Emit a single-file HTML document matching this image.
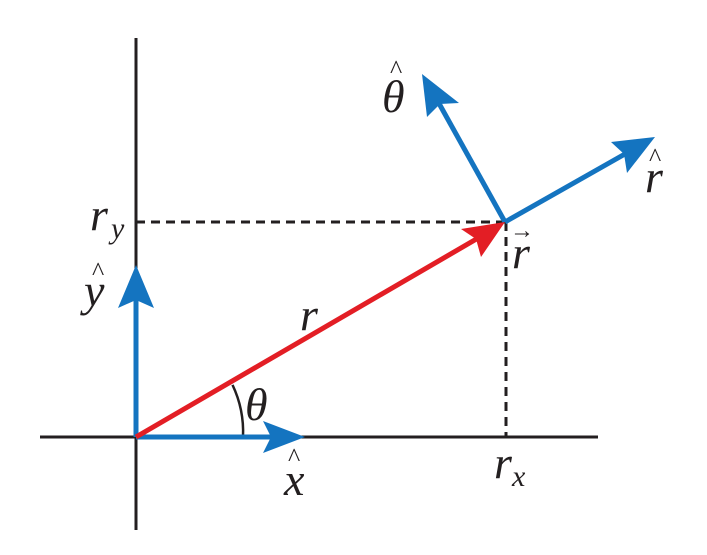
<!DOCTYPE html>
<html><head><style>body{margin:0;background:#fff}svg{display:block}text{font-family:"Liberation Serif","DejaVu Serif",serif;font-style:italic}</style></head><body>
<svg width="707" height="555" xmlns="http://www.w3.org/2000/svg">
<g stroke="#231f20" stroke-width="3" fill="none">
<line x1="136" y1="38" x2="136" y2="530"/>
<line x1="40" y1="437" x2="598" y2="437"/>
<line x1="136" y1="222" x2="505" y2="222" stroke-dasharray="9,6"/>
<line x1="506" y1="222" x2="506" y2="437" stroke-dasharray="9,6"/>
<path d="M232.5,384.9 A110,110 0 0 1 243,437" stroke-width="2.5"/>
</g>
<g stroke="#1474c0" stroke-width="5" fill="none">
<line x1="136" y1="437" x2="280" y2="437"/>
<line x1="136" y1="437" x2="136" y2="290"/>
<line x1="505" y1="222" x2="632" y2="150"/>
<line x1="505" y1="222" x2="436" y2="98"/>
</g>
<g fill="#1474c0">
<path d="M305,437 L263,421 L271,437 L263,453 Z"/>
<path d="M136,265 L118,308 L136,300 L154,308 Z"/>
<path d="M655,137 L611,142 L624,154 L627,173 Z"/>
<path d="M422,74 L427,117 L440,104 L459,103 Z"/>
</g>
<line x1="136" y1="437" x2="485" y2="234" stroke="#e31e25" stroke-width="5"/>
<path d="M505,222 L461,229 L476,239 L481,257 Z" fill="#e31e25"/>
<g font-size="46" fill="#231f20">
<text x="90" y="230">r</text><text x="111" y="238" font-size="30">y</text>
<text x="84" y="306">y</text><text x="92" y="280" font-size="26" style="font-style:normal">^</text>
<text x="300" y="330">r</text>
<text x="245" y="420">θ</text>
<text x="284" y="495">x</text><text x="288" y="466" font-size="26" style="font-style:normal">^</text>
<text x="494" y="478">r</text><text x="512" y="486" font-size="30">x</text>
<text x="512" y="268">r</text><text x="510" y="238" font-size="24" style="font-style:normal">→</text>
<text x="382" y="112">θ</text><text x="390" y="78" font-size="26" style="font-style:normal">^</text>
<text x="645" y="192">r</text><text x="649" y="166" font-size="26" style="font-style:normal">^</text>
</g>
</svg>
</body></html>
